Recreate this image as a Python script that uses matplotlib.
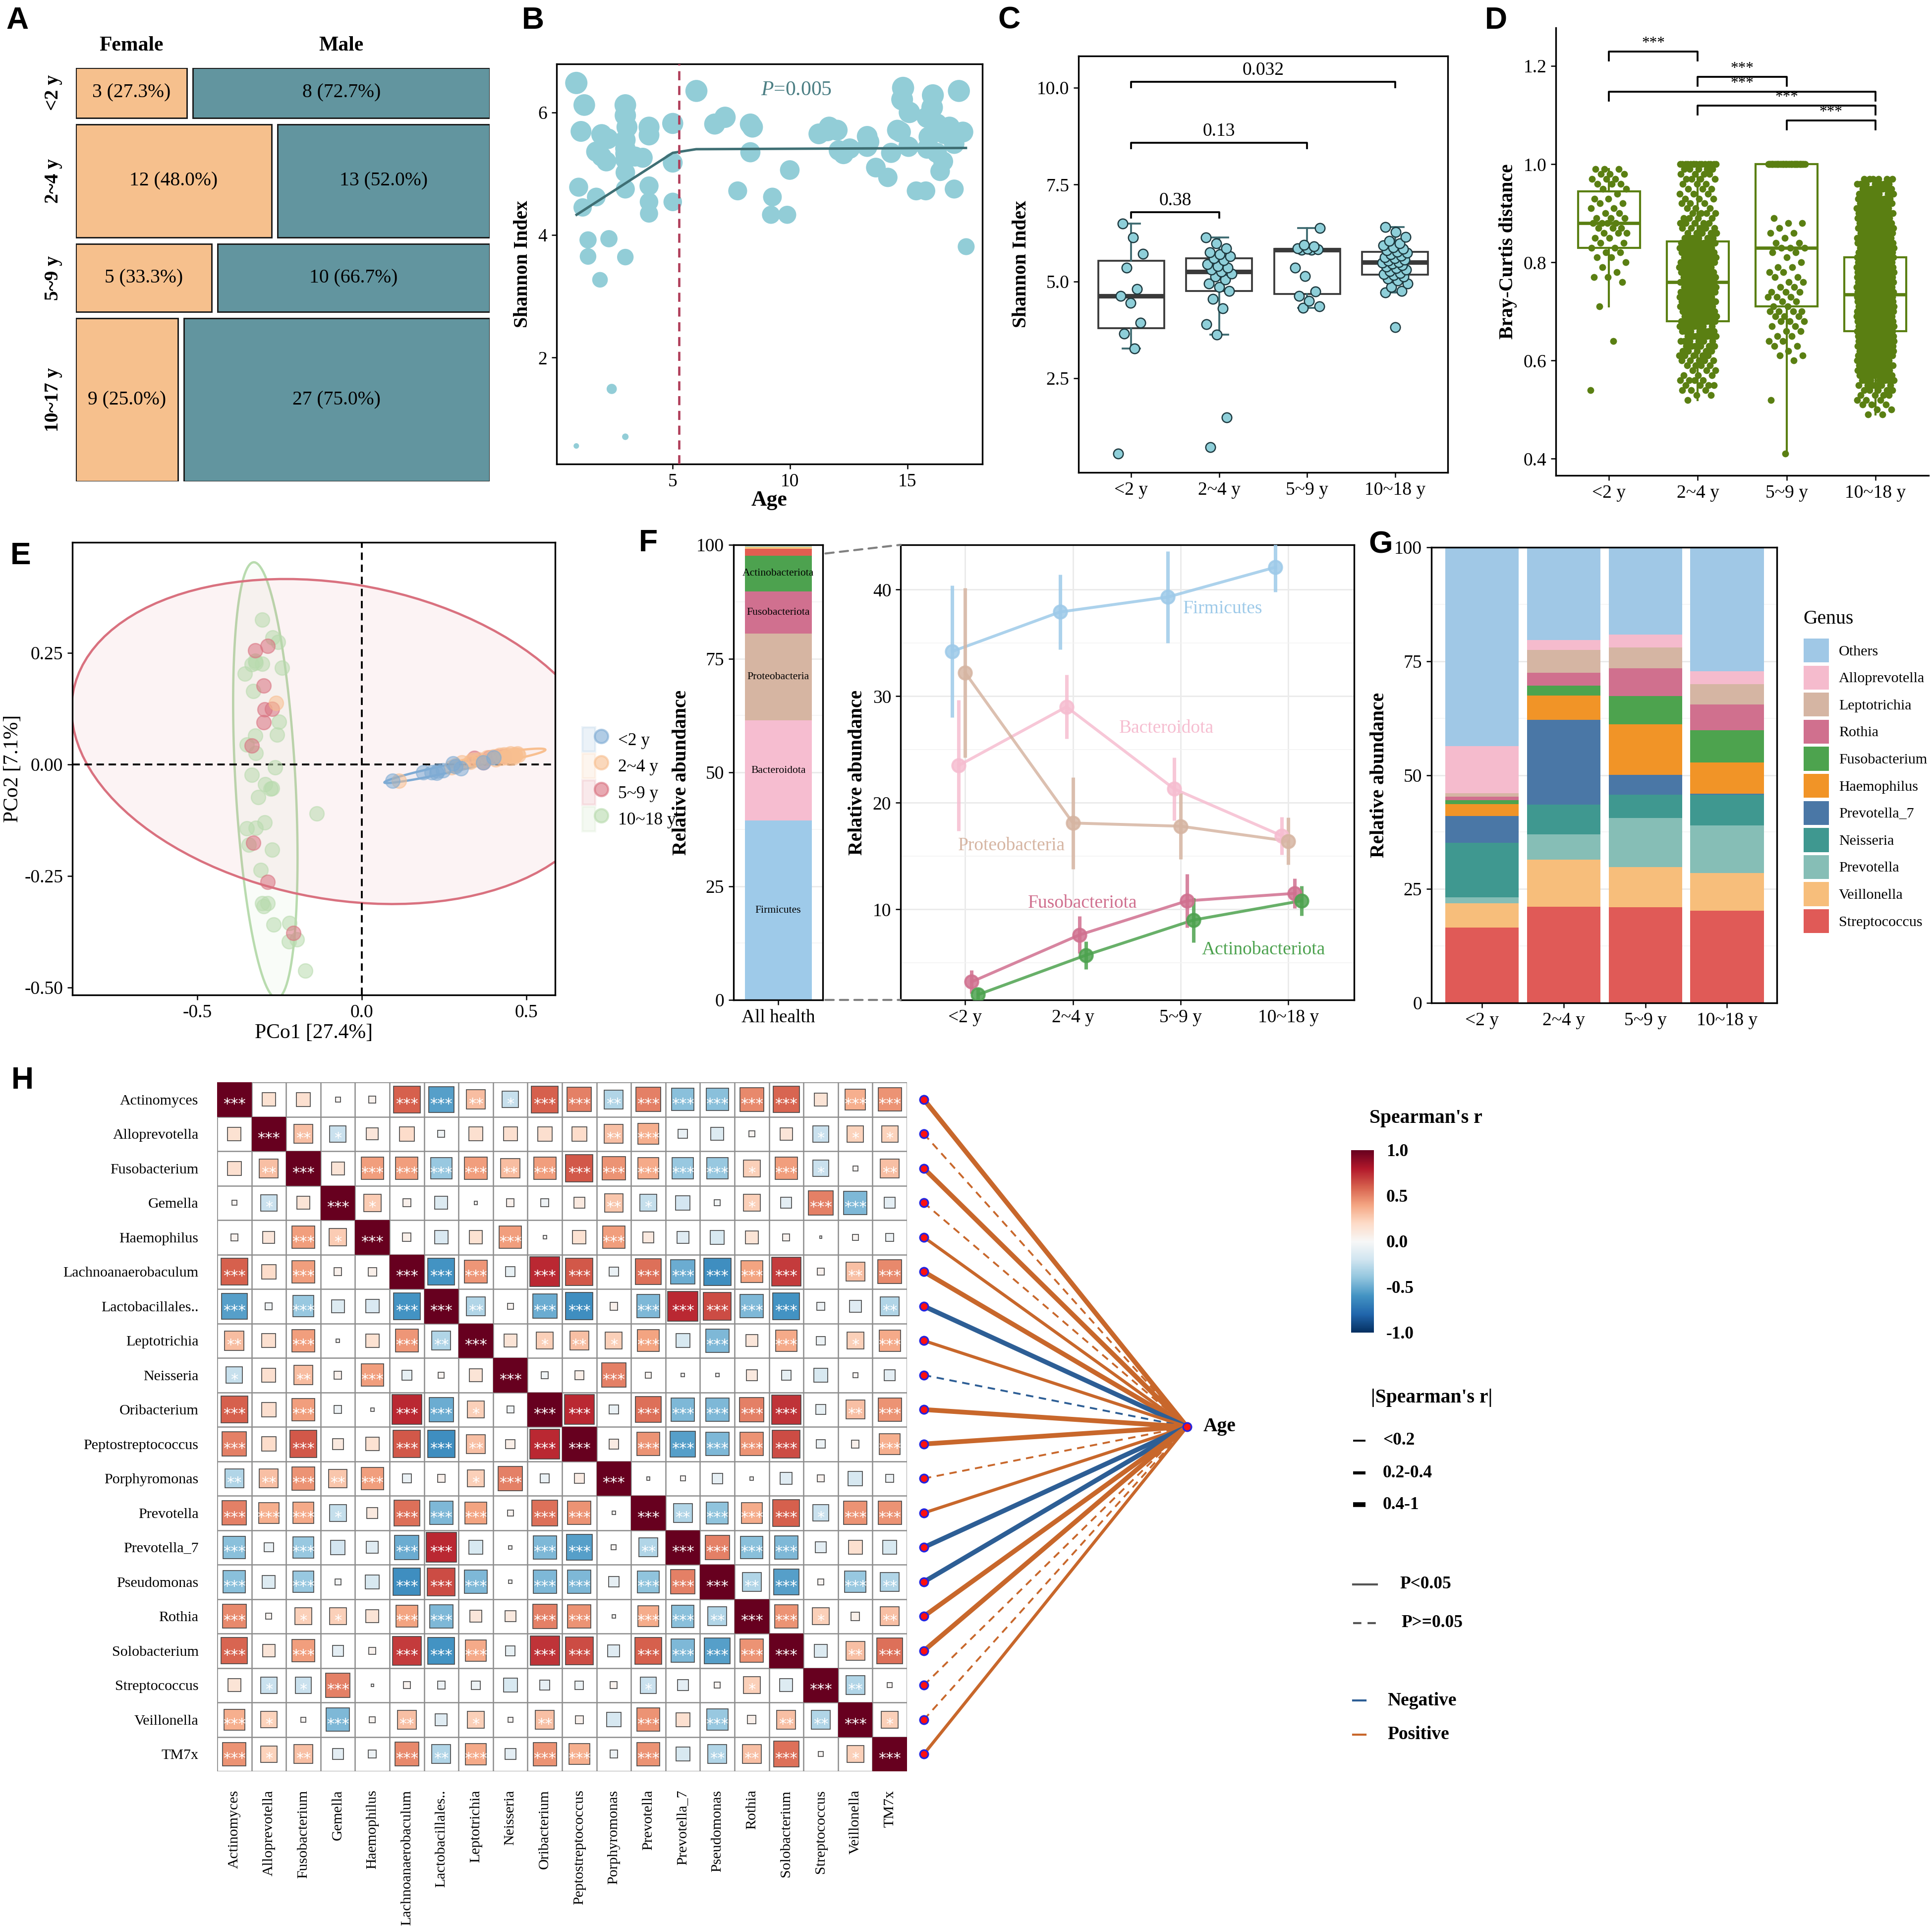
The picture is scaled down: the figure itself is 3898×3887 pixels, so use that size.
import numpy as np
import matplotlib
matplotlib.use('Agg')
import matplotlib.pyplot as plt
from matplotlib.patches import Rectangle, Patch, Polygon, ConnectionPatch
from matplotlib.lines import Line2D
from matplotlib.legend_handler import HandlerTuple
from matplotlib.cm import ScalarMappable
from matplotlib.colors import Normalize

plt.rcParams['font.family'] = ['Liberation Serif', 'DejaVu Serif']
plt.rcParams['mathtext.fontset'] = 'custom'
plt.rcParams['mathtext.rm'] = 'Liberation Serif'
plt.rcParams['mathtext.it'] = 'Liberation Serif:italic'
plt.rcParams['axes.linewidth'] = 0.8
plt.rcParams['xtick.major.width'] = 0.6
plt.rcParams['ytick.major.width'] = 0.6
plt.rcParams['xtick.major.size'] = 2.5
plt.rcParams['ytick.major.size'] = 2.5
plt.rcParams['xtick.labelsize'] = 9
plt.rcParams['ytick.labelsize'] = 9
plt.rcParams['xtick.major.pad'] = 2
plt.rcParams['ytick.major.pad'] = 2

# ---------------- data ----------------
# A: sex by age group
sex_groups = ['<2 y', '2~4 y', '5~9 y', '10~17 y']
female_n = [3, 12, 5, 9]
male_n = [8, 13, 10, 27]

# B: Shannon vs age
age_b = [0.89, 1.23, 1.09, 0.99, 1.16, 0.89, 1.39, 1.39, 1.74, 1.90,
         1.97, 2.24, 1.74, 1.97, 2.17, 2.28, 2.40, 2.98, 2.98, 3.05,
         2.98, 2.98, 2.98, 2.98, 2.98, 2.98, 2.98, 3.72, 3.99, 3.99,
         3.99, 3.99, 3.99, 5.00, 5.00, 5.00, 6.01, 6.79, 7.23, 7.77,
         8.31, 8.40, 8.31, 9.25, 9.19, 9.99, 9.88, 11.23, 11.67, 12.01,
         12.08, 12.28, 13.29, 13.29, 13.66, 14.17, 14.31, 14.82, 14.78, 15.09,
         14.71, 15.05, 15.38, 15.79, 16.09, 16.06, 15.85, 16.26, 15.85, 16.26,
         16.53, 16.40, 16.80, 16.94, 17.00, 17.00, 17.20, 17.37, 17.51, 16.60,
         15.92, 2.98, 3.39, 14.58, 12.55, 13.37, 11.60]
shannon_b = [6.48, 6.12, 5.69, 4.78, 4.45, 0.56, 3.92, 3.65, 4.62, 3.27,
             5.64, 5.57, 5.36, 5.28, 5.20, 3.94, 1.49, 6.12, 5.95, 5.76,
             5.55, 5.41, 5.23, 5.02, 4.75, 3.64, 0.71, 5.26, 5.76, 5.63,
             4.80, 4.54, 4.35, 5.82, 5.18, 4.54, 6.35, 5.81, 5.92, 4.72,
             5.81, 5.76, 5.35, 4.62, 4.33, 5.06, 4.33, 5.65, 5.76, 5.71,
             5.38, 5.32, 5.61, 5.44, 5.10, 4.94, 5.34, 6.40, 6.21, 6.00,
             5.68, 5.44, 4.72, 4.72, 6.28, 6.08, 5.92, 5.81, 5.41, 5.34,
             5.20, 5.04, 5.76, 5.60, 5.49, 4.75, 6.35, 5.68, 3.81, 5.65,
             5.60, 5.33, 5.28, 5.71, 5.41, 5.52, 5.70]
fit_age = [0.9, 5.0, 6.0, 17.5]
fit_val = [4.33, 5.34, 5.40, 5.42]
break_age = 5.27
p_text_b = '=0.005'

# C: Shannon by age group
age_cats = ['<2 y', '2~4 y', '5~9 y', '10~18 y']
shan_lt2 = [0.55, 3.27, 3.65, 3.93, 4.45, 4.63, 4.80, 5.36, 5.71, 6.13, 6.49]
shan_2_4 = [0.72, 1.49, 3.63, 3.90, 4.30, 4.55, 4.76, 4.85, 4.95, 5.05, 5.12, 5.20, 5.25,
            5.30, 5.35, 5.40, 5.45, 5.55, 5.60, 5.65, 5.70, 5.75, 5.85, 5.98, 6.13]
shan_5_9 = [4.32, 4.36, 4.50, 4.62, 4.74, 5.14, 5.35, 5.81, 5.82, 5.83, 5.84, 5.85, 5.90, 5.95, 6.38]
shan_10_18 = [3.82, 4.72, 4.75, 4.85, 4.95, 5.02, 5.08, 5.12, 5.16, 5.19, 5.22, 5.26, 5.30,
              5.34, 5.38, 5.42, 5.46, 5.48, 5.50, 5.53, 5.56, 5.60, 5.63, 5.66, 5.70, 5.74,
              5.76, 5.80, 5.84, 5.88, 5.93, 5.98, 6.05, 6.15, 6.28, 6.40]
c_pairs = [(1, 2), (1, 3), (1, 4)]
c_labels = ['0.38', '0.13', '0.032']

# D: Bray-Curtis distance, counts per 0.01 bin from 0.40 to 1.00
bray_bins = [round(0.40 + 0.01 * k, 2) for k in range(61)]
bray_cnt_lt2 = [0, 0, 0, 0, 0, 0, 0, 0, 0, 0,
                0, 0, 0, 0, 1, 0, 0, 0, 0, 0,
                0, 0, 0, 0, 1, 0, 0, 0, 0, 0,
                0, 1, 0, 0, 0, 0, 1, 2, 1, 1,
                1, 2, 2, 2, 2, 2, 3, 3, 4, 3,
                2, 2, 2, 2, 1, 2, 3, 3, 3, 3,
                0]
bray_cnt_2_4 = [0, 0, 0, 0, 0, 0, 0, 0, 0, 0,
                0, 0, 1, 2, 3, 4, 4, 3, 3, 4,
                5, 5, 5, 6, 6, 7, 7, 7, 8, 9,
                9, 9, 10, 10, 10, 10, 10, 9, 9, 9,
                9, 8, 8, 8, 8, 6, 5, 5, 5, 4,
                4, 3, 3, 3, 3, 3, 3, 4, 4, 5,
                15]
bray_cnt_5_9 = [0, 1, 0, 0, 0, 0, 0, 0, 0, 0,
                0, 0, 1, 0, 0, 0, 0, 0, 0, 0,
                1, 2, 1, 2, 2, 2, 2, 2, 3, 3,
                4, 2, 2, 3, 3, 2, 2, 2, 2, 2,
                1, 1, 2, 3, 2, 1, 2, 1, 2, 1,
                0, 0, 0, 0, 0, 0, 0, 0, 0, 0,
                43]
bray_cnt_10_18 = [0, 0, 0, 0, 0, 0, 0, 0, 0, 2,
                  2, 3, 3, 4, 5, 6, 7, 8, 9, 10,
                  11, 12, 13, 14, 16, 17, 18, 20, 21, 22,
                  23, 23, 23, 23, 23, 22, 22, 21, 20, 19,
                  18, 16, 15, 14, 13, 12, 11, 10, 10, 9,
                  9, 8, 8, 8, 7, 7, 7, 6, 0, 0,
                  0]
d_pairs = [(1, 2), (2, 3), (1, 4), (2, 4), (3, 4)]
d_labels = ['***', '***', '***', '***', '***']

# E: PCoA coordinates
pc_lt2_x = [0.093, 0.186, 0.212, 0.230, 0.246, 0.276, 0.301, 0.227, 0.285, 0.368, 0.400]
pc_lt2_y = [-0.037, -0.018, -0.018, -0.015, -0.013, 0.002, -0.009, -0.019, -0.004, 0.004, 0.016]
pc_2_4_x = [-0.261, 0.112, 0.272, 0.304, 0.336, 0.355, 0.381, 0.400, 0.419, 0.432, 0.444, 0.451,
            0.457, 0.464, 0.467, 0.473, 0.425, 0.406, 0.368, 0.330, 0.438, 0.451, 0.460, 0.476, 0.285]
pc_2_4_y = [0.138, -0.037, -0.007, 0.004, 0.010, 0.011, 0.016, 0.018, 0.021, 0.022, 0.021, 0.024,
            0.019, 0.022, 0.021, 0.024, 0.014, 0.011, 0.006, 0.006, 0.016, 0.014, 0.016, 0.021, -0.002]
pc_5_9_x = [-0.324, -0.286, -0.299, -0.296, -0.273, -0.299, -0.335, -0.331, -0.287, -0.209,
            0.342, 0.387, 0.413, 0.432, 0.368]
pc_5_9_y = [0.256, 0.266, 0.177, 0.123, 0.125, 0.094, 0.042, -0.176, -0.264, -0.378,
            0.014, 0.016, 0.018, 0.019, 0.004]
pc_10_18_x = [-0.303, -0.271, -0.255, -0.324, -0.303, -0.356, -0.243, -0.331, -0.252, -0.258,
              -0.324, -0.350, -0.322, -0.264, -0.335, -0.294, -0.273, -0.315, -0.137, -0.296,
              -0.322, -0.350, -0.344, -0.273, -0.307, -0.299, -0.287, -0.268, -0.220, -0.222,
              -0.197, -0.172, -0.322, -0.335, -0.277, -0.303]
pc_10_18_y = [0.325, 0.285, 0.274, 0.232, 0.226, 0.203, 0.217, 0.164, 0.096, 0.067,
              0.064, 0.044, 0.025, -0.007, -0.023, -0.044, -0.053, -0.073, -0.110, -0.130,
              -0.142, -0.143, -0.180, -0.191, -0.237, -0.318, -0.311, -0.359, -0.356, -0.397,
              -0.392, -0.463, 0.228, 0.224, -0.055, -0.311]

# F: phylum composition
phyla_all = ['Firmicutes', 'Bacteroidota', 'Proteobacteria', 'Fusobacteriota',
             'Actinobacteriota', 'Campilobacterota', 'Spirochaetota', 'Others']
phyla_all_pct = [39.4, 22.0, 19.1, 9.3, 7.8, 1.5, 0.5, 0.4]
phyla_trend = ['Firmicutes', 'Bacteroidota', 'Proteobacteria', 'Fusobacteriota', 'Actinobacteriota']
trend_mean = [[34.2, 37.9, 39.3, 42.1],
              [23.5, 29.0, 21.3, 16.9],
              [32.2, 18.1, 17.8, 16.4],
              [3.2, 7.6, 10.8, 11.5],
              [2.0, 5.7, 9.0, 10.8]]
trend_err = [[6.2, 3.5, 4.3, 2.3],
             [6.15, 3.0, 2.95, 1.75],
             [7.95, 4.3, 3.1, 2.2],
             [1.1, 1.75, 2.5, 1.4],
             [0.6, 1.3, 2.1, 1.4]]

# G: genus composition by age group (bottom to top)
genera_g = ['Streptococcus', 'Veillonella', 'Prevotella', 'Neisseria', 'Prevotella_7',
            'Haemophilus', 'Fusobacterium', 'Rothia', 'Leptotrichia', 'Alloprevotella', 'Others']
genus_pct = [[16.5, 21.1, 21.0, 20.2],
             [5.4, 10.4, 8.8, 8.3],
             [1.3, 5.5, 10.8, 10.5],
             [12.0, 6.5, 5.1, 6.7],
             [5.8, 18.6, 4.4, 0.2],
             [2.6, 5.4, 11.1, 6.9],
             [0.9, 2.1, 6.2, 7.1],
             [0.8, 2.9, 6.1, 5.6],
             [0.7, 5.0, 4.5, 4.5],
             [10.4, 2.1, 2.9, 2.8],
             [43.6, 20.4, 19.1, 27.2]]

# H: Spearman correlations among genera (upper triangle, row by row)
genera_h = ['Actinomyces', 'Alloprevotella', 'Fusobacterium', 'Gemella', 'Haemophilus',
            'Lachnoanaerobaculum', 'Lactobacillales..', 'Leptotrichia', 'Neisseria', 'Oribacterium',
            'Peptostreptococcus', 'Porphyromonas', 'Prevotella', 'Prevotella_7', 'Pseudomonas',
            'Rothia', 'Solobacterium', 'Streptococcus', 'Veillonella', 'TM7x']
corr_upper = [
    [0.15, 0.16, 0.02, 0.04, 0.60, -0.55, 0.31, -0.23, 0.60, 0.50, -0.30, 0.50, -0.42, -0.42, 0.48, 0.58, 0.14, 0.36, 0.45],
    [0.30, -0.22, 0.12, 0.18, -0.04, 0.16, 0.16, 0.17, 0.18, 0.30, 0.36, -0.07, -0.14, 0.03, 0.13, -0.22, 0.23, 0.23],
    [0.14, 0.42, 0.42, -0.38, 0.42, 0.31, 0.42, 0.62, 0.45, 0.38, -0.38, -0.38, 0.24, 0.42, -0.22, 0.02, 0.30],
    [0.25, 0.05, -0.14, 0.01, 0.05, -0.05, 0.10, 0.28, -0.24, -0.18, -0.03, 0.24, -0.10, 0.50, -0.45, -0.10],
    [0.06, -0.15, 0.15, 0.42, 0.01, 0.15, 0.42, 0.10, -0.12, -0.16, 0.14, 0.04, 0.005, 0.03, -0.05],
    [-0.60, 0.44, -0.08, 0.75, 0.62, -0.07, 0.55, -0.50, -0.62, 0.40, 0.70, 0.04, 0.30, 0.48],
    [-0.30, 0.03, -0.50, -0.62, 0.05, -0.45, 0.75, 0.65, -0.45, -0.60, -0.05, -0.12, -0.30],
    [0.14, 0.24, 0.30, 0.24, 0.40, -0.16, -0.45, 0.12, 0.38, -0.06, 0.24, 0.38],
    [-0.04, 0.07, 0.50, 0.03, 0.01, 0.01, 0.10, -0.08, -0.16, 0.02, -0.10],
    [0.75, -0.07, 0.55, -0.45, -0.45, 0.50, 0.72, -0.08, 0.30, 0.45],
    [0.08, 0.45, -0.55, -0.45, 0.45, 0.65, -0.06, 0.05, 0.36],
    [0.01, 0.02, -0.09, 0.01, -0.12, 0.04, -0.17, -0.05],
    [-0.30, -0.40, 0.37, 0.60, -0.22, 0.45, 0.45],
    [0.50, -0.42, -0.45, -0.10, 0.16, -0.16],
    [-0.30, -0.55, 0.03, -0.38, -0.30],
    [0.45, 0.24, 0.06, 0.30],
    [-0.14, 0.30, 0.55],
    [-0.30, 0.02],
    [0.24],
]
# correlation of each genus with age
age_r = [0.42, 0.12, 0.42, 0.10, 0.30, 0.41, -0.42, 0.28, -0.10, 0.45,
         0.45, 0.12, 0.28, -0.45, -0.42, 0.42, 0.45, 0.10, 0.10, 0.30]
age_p = [0.001, 0.30, 0.001, 0.40, 0.01, 0.001, 0.001, 0.01, 0.35, 0.001,
         0.001, 0.25, 0.01, 0.001, 0.001, 0.001, 0.001, 0.40, 0.30, 0.01]

# ---------------- figure ----------------
W, H = 3898, 3887
fig = plt.figure(figsize=(W / 300, H / 300), dpi=300)


def add_ax(x0, y0, x1, y1):
    return fig.add_axes([x0 / W, 1 - y1 / H, (x1 - x0) / W, (y1 - y0) / H])


def ftext(x, y, s, **kw):
    return fig.text(x / W, 1 - y / H, s, **kw)


def jitter(n, width, seed=0.0):
    return ((np.arange(n) * 0.6180339 + seed) % 1 - 0.5) * width


for lab, x, y in [('A', 35, 42), ('B', 1075, 41), ('C', 2036, 41), ('D', 3018, 41),
                  ('E', 42, 1121), ('F', 1308, 1096), ('G', 2786, 1099), ('H', 45, 2180)]:
    ftext(x, y, lab, fontsize=15, fontweight='bold', family=['Liberation Sans', 'DejaVu Sans'],
          ha='center', va='center')

# ---------- A: mosaic ----------
col_female, col_male = '#F6C08D', '#62959F'
axA = add_ax(153, 137, 988, 971)
axA.set_xlim(0, 1)
axA.set_ylim(1, 0)
axA.axis('off')
fem = np.array(female_n)
mal = np.array(male_n)
tot = fem + mal
gap_v, gap_h = 0.0156, 0.0144
heights = tot / tot.sum() * (1 - gap_v * (len(tot) - 1))
y0 = 0
for i in range(len(tot)):
    h = heights[i]
    wf = fem[i] / tot[i] * (1 - gap_h)
    wm = 1 - gap_h - wf
    axA.add_patch(Rectangle((0, y0), wf, h, fc=col_female, ec='#1a1a1a', lw=0.7))
    axA.add_patch(Rectangle((wf + gap_h, y0), wm, h, fc=col_male, ec='#1a1a1a', lw=0.7))
    axA.text(wf / 2, y0 + h / 2, f'{fem[i]} ({fem[i] / tot[i] * 100:.1f}%)',
             ha='center', va='center', fontsize=9.5)
    axA.text(wf + gap_h + wm / 2, y0 + h / 2, f'{mal[i]} ({mal[i] / tot[i] * 100:.1f}%)',
             ha='center', va='center', fontsize=9.5)
    axA.text(-0.054, y0 + h / 2, sex_groups[i], rotation=90, ha='center', va='center',
             fontsize=9.5, fontweight='bold', clip_on=False)
    if i == 0:
        axA.text(wf / 2, -0.054, 'Female', ha='center', va='center', fontsize=10,
                 fontweight='bold', clip_on=False)
        axA.text(wf + gap_h + wm / 2, -0.054, 'Male', ha='center', va='center', fontsize=10,
                 fontweight='bold', clip_on=False)
    y0 += h + gap_v

# ---------- B: Shannon vs age ----------
axB = add_ax(1123, 129, 1982, 936)
sb = np.array(shannon_b)
axB.scatter(age_b, sb, s=7 + (sb - 0.55) * 18.5, c='#92CDD7', lw=0, zorder=2)
axB.plot(fit_age, fit_val, color='#3F6F74', lw=1.2, zorder=3)
axB.axvline(break_age, color='#B03E5A', lw=1.1, ls=(0, (4, 2.5)), zorder=3)
axB.set_xlim(0.05, 18.2)
axB.set_ylim(0.265, 6.79)
axB.set_xticks([5, 10, 15])
axB.set_yticks([2, 4, 6])
axB.set_xlabel('Age', fontsize=10.5, fontweight='bold', labelpad=0)
axB.set_ylabel('Shannon Index', fontsize=9.5, fontweight='bold', labelpad=3)
axB.text(10.26, 6.36, r'$\mathit{P}$' + p_text_b, color='#4C7F84', fontsize=10,
         ha='center', va='center')

# ---------- C: Shannon boxplots ----------
axC = add_ax(2176, 113, 2921, 953)
c_data = [shan_lt2, shan_2_4, shan_5_9, shan_10_18]
axC.boxplot(c_data, positions=[1, 2, 3, 4], widths=0.75, showfliers=False, whis=1.5,
            patch_artist=True, capwidths=0.2,
            boxprops=dict(facecolor='white', edgecolor='#3a3a3a', lw=0.9),
            medianprops=dict(color='#3a3a3a', lw=2.2),
            whiskerprops=dict(color='#3D6A70', lw=0.9),
            capprops=dict(color='#3D6A70', lw=0.9))
for k, vals in enumerate(c_data):
    xs = k + 1 + jitter(len(vals), 0.3, 0.17 * k)
    axC.scatter(xs, vals, s=22, c='#8ECFD9', edgecolors='#1E3A40', lw=0.6, zorder=4)
c_ybar = [6.79, 8.58, 10.15]
for (a, b), lab, yb in zip(c_pairs, c_labels, c_ybar):
    axC.plot([a, a, b, b], [yb - 0.14, yb, yb, yb - 0.14], color='black', lw=0.9)
    axC.text((a + b) / 2, yb + 0.08, lab, ha='center', va='bottom', fontsize=9)
axC.set_xlim(0.4, 4.6)
axC.set_ylim(0.07, 10.82)
axC.set_xticks([1, 2, 3, 4])
axC.set_xticklabels(age_cats)
axC.set_yticks([2.5, 5.0, 7.5, 10.0])
axC.set_yticklabels(['2.5', '5.0', '7.5', '10.0'])
axC.set_ylabel('Shannon Index', fontsize=9.5, fontweight='bold', labelpad=3)

# ---------- D: Bray-Curtis ----------
axD = add_ax(3139, 56, 3891, 959)
d_data = [np.repeat(bray_bins, c) for c in (bray_cnt_lt2, bray_cnt_2_4, bray_cnt_5_9, bray_cnt_10_18)]
col_d = '#5A7F12'
for k, vals in enumerate(d_data):
    xs = k + 1 + jitter(len(vals), 0.42, 0.23 * k)
    axD.scatter(xs, vals, s=11, c=col_d, lw=0, zorder=2)
axD.boxplot(d_data, positions=[1, 2, 3, 4], widths=0.7, showfliers=False, whis=1.5,
            patch_artist=True, showcaps=False,
            boxprops=dict(facecolor='none', edgecolor=col_d, lw=1.0),
            medianprops=dict(color=col_d, lw=1.6),
            whiskerprops=dict(color=col_d, lw=1.0), zorder=3)
d_ybar = [1.2295, 1.178, 1.148, 1.119, 1.089]
for (a, b), lab, yb in zip(d_pairs, d_labels, d_ybar):
    axD.plot([a, a, b, b], [yb - 0.018, yb, yb, yb - 0.018], color='black', lw=0.9)
    axD.text((a + b) / 2, yb + 0.002, lab, ha='center', va='bottom', fontsize=7.5)
axD.set_xlim(0.4, 4.6)
axD.set_ylim(0.366, 1.278)
axD.set_xticks([1, 2, 3, 4])
axD.set_xticklabels(age_cats)
axD.set_yticks([0.4, 0.6, 0.8, 1.0, 1.2])
axD.set_yticklabels(['0.4', '0.6', '0.8', '1.0', '1.2'])
axD.spines['top'].set_visible(False)
axD.spines['right'].set_visible(False)
axD.set_ylabel('Bray-Curtis distance', fontsize=9.5, fontweight='bold', labelpad=3)


# ---------- E: PCoA ----------
def trob_ellipse(x, y, level=0.925, nu=5, segs=120):
    # robust (multivariate t) covariance ellipse
    X = np.column_stack([x, y])
    n = len(X)
    loc = X.mean(0)
    w = np.ones(n)
    for _ in range(200):
        D = X - loc
        S = (D * (w / w.sum())[:, None]).T @ D
        Q = np.einsum('ij,jk,ik->i', D, np.linalg.inv(S), D)
        w0 = w
        w = (nu + 2) / (nu + Q)
        loc = (w[:, None] * X).sum(0) / w.sum()
        if np.all(np.abs(w - w0) < 1e-6):
            break
    cov = (D * w[:, None]).T @ D / n
    d = n - 1
    fq = d / 2 * ((1 - level) ** (-2 / d) - 1)
    rad = np.sqrt(2 * fq)
    t = np.linspace(0, 2 * np.pi, segs)
    circ = np.column_stack([np.cos(t), np.sin(t)])
    L = np.linalg.cholesky(cov)
    return loc + rad * circ @ L.T


axE = add_ax(146, 1094, 1120, 2007)
e_groups = [(pc_lt2_x, pc_lt2_y, '#7EABD4', '<2 y'),
            (pc_2_4_x, pc_2_4_y, '#F8BF90', '2~4 y'),
            (pc_5_9_x, pc_5_9_y, '#D9717F', '5~9 y'),
            (pc_10_18_x, pc_10_18_y, '#B8DBAE', '10~18 y')]
for gx, gy, col, lab in e_groups[::-1]:
    el = trob_ellipse(gx, gy)
    axE.add_patch(Polygon(el, closed=True, fc=col, alpha=0.08, lw=0))
    axE.add_patch(Polygon(el, closed=True, fc='none', ec=col, lw=1.1))
for gx, gy, col, lab in e_groups[::-1]:
    axE.scatter(gx, gy, s=48, c=col, alpha=0.55, edgecolors=col, lw=0.6, zorder=3)
axE.axhline(0, color='black', lw=0.9, ls=(0, (4, 2.5)), zorder=1)
axE.axvline(0, color='black', lw=0.9, ls=(0, (4, 2.5)), zorder=1)
axE.set_xlim(-0.88, 0.587)
axE.set_ylim(-0.517, 0.498)
axE.set_xticks([-0.5, 0.0, 0.5])
axE.set_xticklabels(['-0.5', '0.0', '0.5'])
axE.set_yticks([-0.5, -0.25, 0.0, 0.25])
axE.set_yticklabels(['-0.50', '-0.25', '0.00', '0.25'])
axE.set_xlabel('PCo1 [27.4%]', fontsize=10, labelpad=1)
axE.set_ylabel('PCo2 [7.1%]', fontsize=10, labelpad=1)
e_handles = [(Patch(fc=col, alpha=0.15, ec=col, lw=1.0),
              Line2D([], [], marker='o', ls='none', ms=6.5, mfc=col, mec=col, alpha=0.6))
             for gx, gy, col, lab in e_groups]
axE.legend(e_handles, [g[3] for g in e_groups], handler_map={tuple: HandlerTuple(ndivide=None)},
           loc='upper left', bbox_to_anchor=(1175 / W, 1 - 1467 / H), bbox_transform=fig.transFigure,
           frameon=False, fontsize=8.5, handlelength=1.44, handleheight=1.76, labelspacing=0.12,
           handletextpad=0.6, borderpad=0, borderaxespad=0)

# ---------- F: phylum composition ----------
phy_cols = ['#9ECAE9', '#F6BDD0', '#D6B5A2', '#D0708F', '#4DA24F', '#E35D50', '#F5C77E', '#A8D6C9']
axFl = add_ax(1480, 1099, 1660, 2017)
bottom = 0
for j, (name, v) in enumerate(zip(phyla_all, phyla_all_pct)):
    axFl.bar(1, v, bottom=bottom, width=0.9, color=phy_cols[j], lw=0, zorder=2)
    if j < 5:
        axFl.text(1, bottom + v / 2, name, ha='center', va='center', fontsize=5.2, zorder=3)
    bottom += v
axFl.set_xlim(0.4, 1.6)
axFl.set_ylim(0, 100)
axFl.set_yticks([0, 25, 50, 75, 100])
axFl.set_yticks([12.5, 37.5, 62.5, 87.5], minor=True)
axFl.tick_params(axis='y', which='minor', length=0)
axFl.set_xticks([1])
axFl.set_xticklabels(['All health'])
axFl.yaxis.grid(True, which='major', color='#EBEBEB', lw=0.7)
axFl.yaxis.grid(True, which='minor', color='#F3F3F3', lw=0.4)
axFl.set_axisbelow(True)
axFl.set_ylabel('Relative abundance', fontsize=9.5, fontweight='bold', labelpad=3)

axFr = add_ax(1817, 1099, 2732, 2017)
offs = [-0.12, -0.06, 0.0, 0.06, 0.12]
lab_pos = [(3.39, 38.2), (2.87, 27.0), (1.43, 16.0), (2.09, 10.6), (3.77, 6.2)]
for j, name in enumerate(phyla_trend):
    xs = np.arange(1, 5) + offs[j]
    axFr.plot(xs, trend_mean[j], color=phy_cols[j], lw=1.4, alpha=0.85, zorder=3)
    axFr.errorbar(xs, trend_mean[j], yerr=trend_err[j], fmt='o', ms=6.3, color=phy_cols[j],
                  elinewidth=1.7, capsize=0, alpha=0.85, zorder=4)
    axFr.text(lab_pos[j][0], lab_pos[j][1], name, color=phy_cols[j], fontsize=9,
              ha='center', va='center')
axFr.set_xlim(0.4, 4.61)
axFr.set_ylim(1.5, 44.2)
axFr.set_xticks([1, 2, 3, 4])
axFr.set_xticklabels(age_cats)
axFr.set_yticks([10, 20, 30, 40])
axFr.set_yticks([5, 15, 25, 35], minor=True)
axFr.tick_params(axis='y', which='minor', length=0)
axFr.grid(True, which='major', color='#EBEBEB', lw=0.7)
axFr.yaxis.grid(True, which='minor', color='#F3F3F3', lw=0.4)
axFr.set_axisbelow(True)
axFr.set_ylabel('Relative abundance', fontsize=9.5, fontweight='bold', labelpad=3)
for ya, yb in [(0.981, 1.0), (0.0, 0.0)]:
    con = ConnectionPatch(xyA=(1.03, ya), coordsA=axFl.transAxes, xyB=(0.0, yb),
                          coordsB=axFr.transAxes, color='#808080', lw=1.0, ls=(0, (4, 3)))
    fig.add_artist(con)

# ---------- G: genus composition ----------
gen_cols = ['#E05A57', '#F7BE7B', '#86BEB6', '#3F9890', '#4A77A6', '#F19427',
            '#4DA34E', '#D0708E', '#D5B5A3', '#F5BBCD', '#A0C8E6']
axG = add_ax(2888, 1104, 3585, 2023)
bot = np.zeros(4)
for j, name in enumerate(genera_g):
    v = np.array(genus_pct[j])
    axG.bar(np.arange(1, 5), v, bottom=bot, width=0.9, color=gen_cols[j], lw=0, zorder=2, label=name)
    bot += v
axG.set_xlim(0.38, 4.61)
axG.set_ylim(0, 100)
axG.set_xticks([1, 2, 3, 4])
axG.set_xticklabels(age_cats)
axG.set_yticks([0, 25, 50, 75, 100])
axG.set_yticks([12.5, 37.5, 62.5, 87.5], minor=True)
axG.tick_params(axis='y', which='minor', length=0)
axG.yaxis.grid(True, which='major', color='#EBEBEB', lw=0.7)
axG.yaxis.grid(True, which='minor', color='#F3F3F3', lw=0.4)
axG.set_axisbelow(True)
axG.set_ylabel('Relative abundance', fontsize=9.5, fontweight='bold', labelpad=3)
g_handles = [Patch(fc=gen_cols[j], lw=0) for j in range(len(genera_g))][::-1]
axG.legend(g_handles, genera_g[::-1], loc='upper left', bbox_to_anchor=(3639 / W, 1 - 1288 / H),
           bbox_transform=fig.transFigure, frameon=False, fontsize=7.2, handlelength=1.7,
           handleheight=2.1, labelspacing=0.21, handletextpad=0.66, borderpad=0, borderaxespad=0)
ftext(3638, 1249, 'Genus', fontsize=9.5, ha='left', va='center')

# ---------- H: correlation heatmap ----------
ng = len(genera_h)
corr = np.eye(ng)
for i, row in enumerate(corr_upper):
    for k, v in enumerate(row):
        corr[i, i + 1 + k] = v
        corr[i + 1 + k, i] = v
# critical |r| for n = 87 samples at p = 0.05, 0.01, 0.001
r_crit = [0.2108, 0.2748, 0.3493]
cmap = plt.get_cmap('RdBu_r')
norm = Normalize(-1, 1)
axH = add_ax(438, 2183, 1830, 3573)
axH.set_xlim(0, ng)
axH.set_ylim(ng, 0)
for k in range(ng + 1):
    axH.axhline(k, color='#8C8C8C', lw=0.6, zorder=1)
    axH.axvline(k, color='#8C8C8C', lw=0.6, zorder=1)
for i in range(ng):
    for j in range(ng):
        r = corr[i, j]
        side = np.sqrt(abs(r))
        axH.add_patch(Rectangle((j + 0.5 - side / 2, i + 0.5 - side / 2), side, side,
                                fc=cmap(norm(r)), ec='#444444' if i != j else 'none',
                                lw=0.4, zorder=2))
        stars = '*' * sum(abs(r) >= c for c in r_crit)
        if stars:
            axH.text(j + 0.5, i + 0.64, stars, color='white', fontsize=7.3, ha='center',
                     va='center', family=['DejaVu Sans'], zorder=3)
axH.set_xticks(np.arange(ng) + 0.5)
axH.set_xticklabels(genera_h, rotation=90, fontsize=7.2)
axH.set_yticks(np.arange(ng) + 0.5)
axH.set_yticklabels(genera_h, fontsize=7.2)
axH.tick_params(length=0, pad=9)
for sp in axH.spines.values():
    sp.set_visible(False)

# links to age
axL = add_ax(1830, 2183, 2480, 3573)
axL.set_xlim(0, 650)
axL.set_ylim(ng, 0)
axL.axis('off')
node_x, age_x, age_y = 34, 565, ng / 2
for i in range(ng):
    r = age_r[i]
    col = '#2D5E95' if r < 0 else '#C8672B'
    lw = 0.9 if abs(r) < 0.2 else (1.5 if abs(r) < 0.4 else 2.3)
    ls = '-' if age_p[i] < 0.05 else (0, (4, 3))
    axL.plot([node_x, age_x], [i + 0.5, age_y], color=col, lw=lw, ls=ls, zorder=2,
             solid_capstyle='butt')
    axL.plot(node_x, i + 0.5, 'o', ms=4, mfc='#FF1010', mec='#2424E0', mew=0.8, zorder=3)
axL.plot(age_x, age_y, 'o', ms=4, mfc='#FF1010', mec='#2424E0', mew=0.8, zorder=3)
axL.text(age_x + 33, age_y, 'Age', fontsize=9.5, fontweight='bold', va='center', ha='left')

# legends for H
ftext(2763, 2255, "Spearman's r", fontsize=9.5, fontweight='bold', ha='left', va='center')
cax = add_ax(2726, 2320, 2772, 2688)
cb = fig.colorbar(ScalarMappable(norm=norm, cmap=cmap), cax=cax)
cb.outline.set_visible(False)
cb.set_ticks([-1, -0.5, 0, 0.5, 1])
cb.set_ticklabels(['-1.0', '-0.5', '0.0', '0.5', '1.0'])
cax.tick_params(length=0, pad=6, labelsize=8.5)
for t in cax.get_yticklabels():
    t.set_fontweight('bold')

ov = fig.add_axes([0, 0, 1, 1])
ov.set_xlim(0, W)
ov.set_ylim(H, 0)
ov.axis('off')
ftext(2766, 2820, "|Spearman's r|", fontsize=9.5, fontweight='bold', ha='left', va='center')
for yy, lw, lab in [(2906, 0.9, '<0.2'), (2971, 1.5, '0.2-0.4'), (3035, 2.3, '0.4-1')]:
    ov.plot([2730, 2755], [yy, yy], color='black', lw=lw, solid_capstyle='butt')
    ftext(2790, yy, lab, fontsize=8.5, fontweight='bold', ha='left', va='center')
ov.plot([2730, 2778], [3196, 3196], color='#555555', lw=1.0)
ov.plot([2730, 2778], [3274, 3274], color='#555555', lw=1.0, ls=(0, (4, 3)))
ftext(2824, 3196, 'P<0.05', fontsize=8.5, fontweight='bold', ha='left', va='center')
ftext(2827, 3274, 'P>=0.05', fontsize=8.5, fontweight='bold', ha='left', va='center')
ov.plot([2730, 2755], [3430, 3430], color='#2D5E95', lw=1.0)
ov.plot([2730, 2755], [3499, 3499], color='#C8672B', lw=1.0)
ftext(2799, 3430, 'Negative', fontsize=9, fontweight='bold', ha='left', va='center')
ftext(2799, 3499, 'Positive', fontsize=9, fontweight='bold', ha='left', va='center')

fig.savefig('out.png', dpi=300)
